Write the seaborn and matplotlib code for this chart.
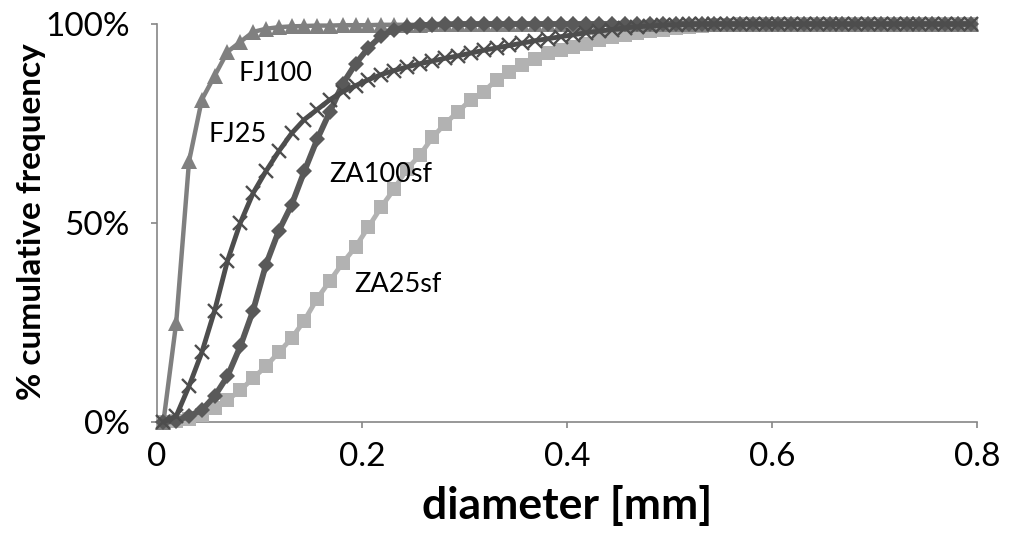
import matplotlib
matplotlib.use("Agg")
import matplotlib.pyplot as plt
import seaborn as sns
import pandas as pd
from matplotlib.ticker import FuncFormatter

# ---- data -------------------------------------------------------------
diameter = [0.00625, 0.01875, 0.03125, 0.04375, 0.05625, 0.06875, 0.08125, 0.09375,
            0.10625, 0.11875, 0.13125, 0.14375, 0.15625, 0.16875, 0.18125, 0.19375,
            0.20625, 0.21875, 0.23125, 0.24375, 0.25625, 0.26875, 0.28125, 0.29375,
            0.30625, 0.31875, 0.33125, 0.34375, 0.35625, 0.36875, 0.38125, 0.39375,
            0.40625, 0.41875, 0.43125, 0.44375, 0.45625, 0.46875, 0.48125, 0.49375,
            0.50625, 0.51875, 0.53125, 0.54375, 0.55625, 0.56875, 0.58125, 0.59375,
            0.60625, 0.61875, 0.63125, 0.64375, 0.65625, 0.66875, 0.68125, 0.69375,
            0.70625, 0.71875, 0.73125, 0.74375, 0.75625, 0.76875, 0.78125, 0.79375]

fj100 = [0, 25, 65.5, 81, 87, 93, 95.5, 98, 98.8, 99.2, 99.4, 99.5, 99.6, 99.6, 99.7, 99.7,
         99.7, 99.8, 99.8, 99.8, 99.8, 99.9, 99.9, 99.9, 99.9, 99.9, 99.9, 100, 100, 100, 100, 100,
         100, 100, 100, 100, 100, 100, 100, 100, 100, 100, 100, 100, 100, 100, 100, 100,
         100, 100, 100, 100, 100, 100, 100, 100, 100, 100, 100, 100, 100, 100, 100, 100]

fj25 = [0, 1.5, 9, 17.5, 28, 40.5, 50, 57.5, 63, 68, 72.5, 76, 78.5, 81, 83, 84.5,
        86, 87.3, 88.3, 89.2, 90, 90.7, 91.4, 92, 92.7, 93.4, 94, 94.6, 95.2, 95.8, 96.3, 96.8,
        97.3, 97.8, 98.2, 98.6, 99, 99.3, 99.5, 99.7, 99.8, 99.9, 100, 100, 100, 100, 100, 100,
        100, 100, 100, 100, 100, 100, 100, 100, 100, 100, 100, 100, 100, 100, 100, 100]

za100sf = [0, 0.3, 1.5, 3, 6.5, 11.5, 19, 28, 39.5, 48, 54.5, 63, 71, 78, 85, 90,
           94, 97, 98.5, 99.3, 99.7, 99.8, 99.9, 100, 100, 100, 100, 100, 100, 100, 100, 100,
           100, 100, 100, 100, 100, 100, 100, 100, 100, 100, 100, 100, 100, 100, 100, 100,
           100, 100, 100, 100, 100, 100, 100, 100, 100, 100, 100, 100, 100, 100, 100, 100]

za25sf = [0, 0.3, 0.8, 1.8, 3.5, 5.5, 8, 11, 14, 17.5, 21, 25.5, 31, 35.5, 40, 44,
          49, 54, 58.5, 63.5, 67, 71.5, 75, 78, 81, 83, 86, 88, 89.7, 91.2, 92.7, 93.5,
          94.3, 95, 96, 96.7, 97.3, 97.8, 98.2, 98.6, 99, 99.3, 99.5, 99.7, 99.8, 99.9, 100, 100,
          100, 100, 100, 100, 100, 100, 100, 100, 100, 100, 100, 100, 100, 100, 100, 100]

series_names = ["ZA25sf", "FJ100", "ZA100sf", "FJ25"]
series_values = [za25sf, fj100, za100sf, fj25]
x_ticks = [0, 0.2, 0.4, 0.6, 0.8]
x_ticklabels = ["0", "0.2", "0.4", "0.6", "0.8"]
y_ticks = [0, 50, 100]

# label text positions (data coordinates)
label_text = ["FJ100", "FJ25", "ZA100sf", "ZA25sf"]
label_x = [0.116, 0.0785, 0.218, 0.235]
label_y = [87.5, 72.3, 62.3, 34.5]

df = pd.DataFrame({
    "diameter": diameter * len(series_names),
    "value": sum(series_values, []),
    "series": sum([[n] * len(diameter) for n in series_names], []),
})

# ---- styling ----------------------------------------------------------
sns.set_theme(style="white")
plt.rcParams["font.family"] = ["Lato", "DejaVu Sans"]

styles = {
    "ZA25sf":  dict(color="#b2b2b2", marker="s", ms=10.5, lw=3.5, mec="#b2b2b2", mew=0),
    "FJ100":   dict(color="#808080", marker="^", ms=11, lw=3.2, mec="#808080", mew=0),
    "ZA100sf": dict(color="#595959", marker="D", ms=8.5, lw=4.2, mec="#595959", mew=0),
    "FJ25":    dict(color="#4d4d4d", marker="x", ms=10.5, lw=3.5, mec="#4d4d4d", mew=1.7),
}

fig = plt.figure(figsize=(10.09, 5.33), dpi=100)
ax = fig.add_axes([157 / 1009, 1 - 422 / 533, 820 / 1009, 398 / 533])

for name in series_names:
    sub = df[df["series"] == name]
    st = styles[name]
    sns.lineplot(data=sub, x="diameter", y="value", ax=ax, sort=False,
                 estimator=None, color=st["color"], marker=st["marker"],
                 markersize=st["ms"], linewidth=st["lw"], markeredgecolor=st["mec"],
                 markeredgewidth=st["mew"], clip_on=False, legend=False, zorder=3)

for t, x, y in zip(label_text, label_x, label_y):
    ax.text(x, y, t, fontsize=19.5, ha="center", va="center", color="black", zorder=5)

ax.set_xlim(0, 0.8)
ax.set_ylim(0, 100)
ax.set_xticks(x_ticks)
ax.set_xticklabels(x_ticklabels)
ax.set_yticks(y_ticks)
ax.yaxis.set_major_formatter(FuncFormatter(lambda v, p: f"{int(v)}%"))

axis_col = "#868686"
for s in ["top", "right"]:
    ax.spines[s].set_visible(False)
for s in ["left", "bottom"]:
    ax.spines[s].set_color(axis_col)
    ax.spines[s].set_linewidth(1.2)
ax.spines["bottom"].set_zorder(1)
ax.tick_params(axis="both", direction="out", length=4.5, width=1.2, color=axis_col,
               labelsize=24, labelcolor="black", bottom=True, left=True)
ax.tick_params(axis="x", pad=10)
ax.tick_params(axis="y", pad=15)

ax.set_xlabel("diameter [mm]", fontsize=32, fontweight="bold", color="black")
ax.set_ylabel("% cumulative frequency", fontsize=24, fontweight="bold", color="black")
ax.xaxis.label.set_va("center")
ax.yaxis.label.set_va("center")
ax.xaxis.set_label_coords(0.5, (422 - 505) / 398)
ax.yaxis.set_label_coords((32 - 157) / 820, (422 - 222) / 398)

ax.grid(False)
fig.savefig("out.png", dpi=100)
